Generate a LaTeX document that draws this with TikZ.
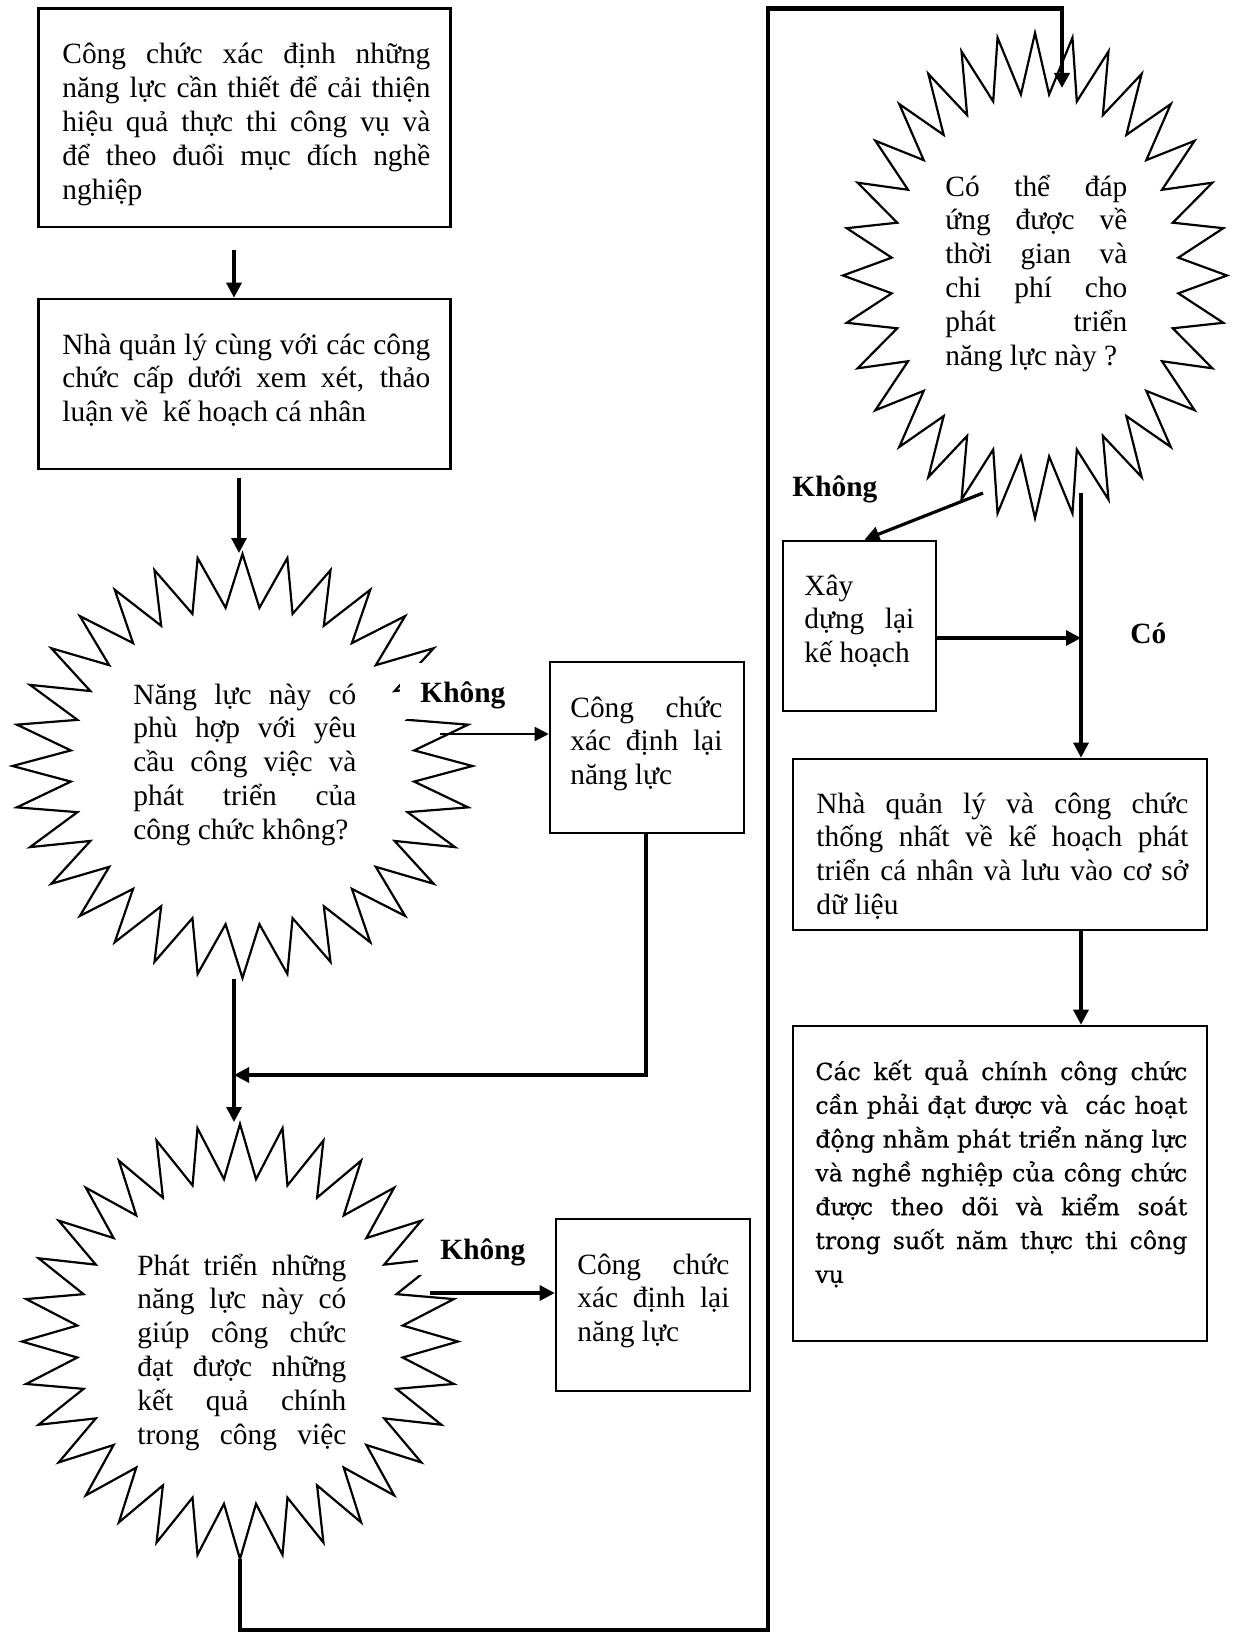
\documentclass[tikz,border=0pt]{standalone}
\usepackage{fontspec}
\setmainfont{Liberation Serif}
\newfontfamily\wideserif[FakeBold=0.4]{DejaVu Serif}
\usetikzlibrary{arrows.meta,fit}

% one justified row of a text block
\newcommand\jrow[1]{\makebox[\linewidth][s]{#1}}
% a text block of fixed width; its reference point is the first baseline
\newcommand\tblock[2]{\parbox[t]{#1}{\lineskiplimit=-50pt\relax#2}}
% a 32-point burst: centre x, centre y, radius x, radius y
\newcommand\burst[4]{%
  \draw[burstline] plot[variable=\k, samples at={0,...,63}]
    ({#1+#3*ifthenelse(mod(\k,2)==0,1,0.75)*cos(90+5.625*\k)},
     {#2+#4*ifthenelse(mod(\k,2)==0,1,0.75)*sin(90+5.625*\k)}) -- cycle;}

\tikzset{
  box/.style={draw, line width=1.3pt, inner sep=0pt},
  burstline/.style={line width=1.1pt, line join=miter},
  txt/.style={inner sep=0pt, anchor=base west, font=\fontsize{14.7}{16.9}\selectfont},
  widetxt/.style={txt, font=\wideserif\fontsize{11.8}{16.9}\selectfont},
  lbl/.style={inner sep=0pt, anchor=base west, font=\bfseries\fontsize{14.7}{16.9}\selectfont},
  conn/.style={line width=1.6pt, -{Triangle[length=7.5pt,width=7.5pt]}},
  thinconn/.style={line width=1pt, -{Triangle[length=7pt,width=7pt]}},
  loopline/.style={line width=2.2pt, line join=miter, -{Triangle[length=7.5pt,width=7.5pt]}},
}

\begin{document}
\begin{tikzpicture}[x=0.5pt,y=-0.5pt]
\useasboundingbox (0,0) rectangle (1235,1632);
\fill[white] (0,0) rectangle (1235,1632);

% rectangular steps
\node[box, fit={(38.5,8.5) (450.5,227)}] (b1) {};
\node[box, fit={(38.5,299) (450.5,469)}] (b2) {};
\node[box, fit={(550,662) (744,833)}] (b3) {};
\node[box, fit={(556,1219) (750,1391)}] (b4) {};
\node[box, fit={(783,541) (936,711)}] (b5) {};
\node[box, fit={(793,759) (1207,930)}] (b6) {};
\node[box, fit={(793,1026) (1207,1341)}] (b7) {};

% decision bursts
\burst{242.5}{766}{230}{212}
\burst{240}{1341.5}{218}{217.5}
\burst{1035}{275.5}{192}{242.5}

% opaque backgrounds of the two side labels, laid over the burst outlines
\fill[white] (400,663) rectangle (527,719);
\fill[white] (418,1232) rectangle (535,1275);

% texts
\node[txt] (b1t) at (62,64) {\tblock{184pt}{%
\jrow{Công chức xác định những}\\
\jrow{năng lực cần thiết để cải thiện}\\
\jrow{hiệu quả thực thi công vụ và}\\
\jrow{để theo đuổi mục đích nghề}\\
nghiệp}};

\node[txt] (b2t) at (62,354) {\tblock{184pt}{%
\jrow{Nhà quản lý cùng với các công}\\
\jrow{chức cấp dưới xem xét, thảo}\\
luận về\ \ kế hoạch cá nhân}};

\node[txt] (q1t) at (133,704) {\tblock{111.5pt}{%
\jrow{Năng lực này có}\\
\jrow{phù hợp với yêu}\\
\jrow{cầu công việc và}\\
\jrow{phát triển của}\\
công chức không?}};

\node[txt] (b3t) at (570,717) {\tblock{76pt}{%
\jrow{Công chức}\\
\jrow{xác định lại}\\
năng lực}};

\node[txt] (q2t) at (137,1275) {\tblock{104.5pt}{%
\jrow{Phát triển những}\\
\jrow{năng lực này có}\\
\jrow{giúp công chức}\\
\jrow{đạt được những}\\
\jrow{kết quả chính}\\
\jrow{trong công việc}}};

\node[txt] (b4t) at (577,1274) {\tblock{76pt}{%
\jrow{Công chức}\\
\jrow{xác định lại}\\
năng lực}};

\node[txt] (q3t) at (945,196) {\tblock{91pt}{%
\jrow{Có thể đáp}\\
\jrow{ứng được về}\\
\jrow{thời gian và}\\
\jrow{chi phí cho}\\
\jrow{phát triển}\\
năng lực này ?}};

\node[txt] (b5t) at (804,595) {\tblock{55pt}{%
Xây\\
\jrow{dựng lại}\\
kế hoạch}};

\node[txt] (b6t) at (816,813) {\tblock{186pt}{%
\jrow{Nhà quản lý và công chức}\\
\jrow{thống nhất về kế hoạch phát}\\
\jrow{triển cá nhân và lưu vào cơ sở}\\
dữ liệu}};

\node[widetxt] (b7t) at (815,1080) {\tblock{186pt}{%
\jrow{Các kết quả chính công chức}\\
\jrow{cần phải đạt được và\ \ các hoạt}\\
\jrow{động nhằm phát triển năng lực}\\
\jrow{và nghề nghiệp của công chức}\\
\jrow{được theo dõi và kiểm soát}\\
\jrow{trong suốt năm thực thi công}\\
vụ}};

% branch labels
\node[lbl] (no1) at (420,702.5) {Không};
\node[lbl] (no2) at (440,1259.6) {Không};
\node[lbl] (no3) at (792,496.7) {Không};
\node[lbl] (yes) at (1130,643) {Có};

% connector end points
\coordinate (a1) at (234,250);
\coordinate (a2) at (239,478);
\coordinate (q1n) at (239,553);
\coordinate (k1) at (440,734);
\coordinate (q1s) at (234,979);
\coordinate (q2n) at (234,1122);
\coordinate (r1) at (646,1075);
\coordinate (k2) at (430,1293);
\coordinate (q2s) at (240,1559);
\coordinate (f1) at (768,1630);
\coordinate (f2) at (1062,8.6);
\coordinate (q3n) at (1062,88);
\coordinate (k3) at (983,493);
\coordinate (q3s) at (1081,493);
\coordinate (k4) at (936,638);

% connectors
\draw[conn] (a1) -- (a1 |- b2.north);
\draw[conn] (a2) -- (q1n);
\draw[thinconn] (k1) -- (k1 -| b3.west);
\draw[conn] (q1s) -- (q2n);
\draw[conn] (r1 |- b3.south) -- (r1) -- (r1 -| q1s);
\draw[conn] (k2) -- (k2 -| b4.west);
\draw[loopline] (q2s) |- (f1) |- (f2) -- (q3n);
\draw[conn] (k3) -- ([xshift=2.5pt]b5.north);
\draw[conn] (q3s) -- (q3s |- b6.north);
\draw[conn] (k4 -| b5.east) -- (k4 -| q3s);
\draw[conn] (q3s |- b6.south) -- (q3s |- b7.north);
\end{tikzpicture}
\end{document}
